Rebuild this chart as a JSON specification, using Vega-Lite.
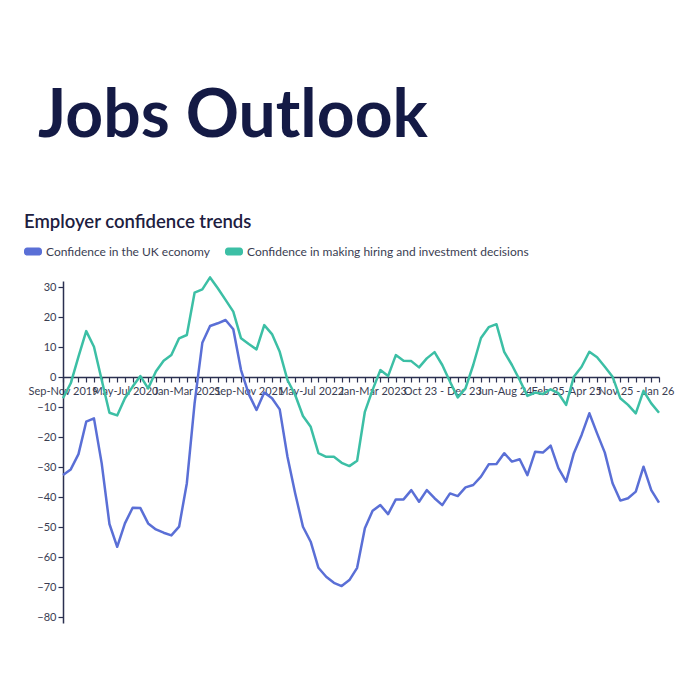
{
  "$schema": "https://vega.github.io/schema/vega-lite/v6.json",
  "padding": {"left": 24, "top": 84, "right": 10, "bottom": 10},
  "background": "white",
  "width": 596,
  "height": 342,
  "title": {
    "text": "Jobs Outlook",
    "anchor": "start",
    "frame": "group",
    "dx": -25,
    "offset": 62,
    "font": "Lato",
    "fontSize": 66,
    "fontWeight": "bold",
    "color": "#141a45"
  },
  "datasets": {
    "confidence": [
      {"period": "Sep-Nov 2019", "economy": -32.7, "hiring": -7.1},
      {"period": "Oct-Dec 2019", "economy": -30.8, "hiring": -2.1},
      {"period": "Nov 2019-Jan 2020", "economy": -25.7, "hiring": 6.8},
      {"period": "Dec 2019-Feb 2020", "economy": -14.9, "hiring": 15.3},
      {"period": "Jan-Mar 2020", "economy": -13.8, "hiring": 10.1},
      {"period": "Feb-Apr 2020", "economy": -28.8, "hiring": -1},
      {"period": "Mar-May 2020", "economy": -49, "hiring": -11.9},
      {"period": "Apr-Jun 2020", "economy": -56.6, "hiring": -12.8},
      {"period": "May-Jul 2020", "economy": -48.8, "hiring": -7.1},
      {"period": "Jun-Aug 2020", "economy": -43.6, "hiring": -3.2},
      {"period": "Jul-Sep 2020", "economy": -43.7, "hiring": 0.3},
      {"period": "Aug-Oct 2020", "economy": -48.8, "hiring": -3.8},
      {"period": "Sep-Nov 2020", "economy": -50.8, "hiring": 1.8},
      {"period": "Oct-Dec 2020", "economy": -51.9, "hiring": 5.4},
      {"period": "Nov 2020-Jan 2021", "economy": -52.8, "hiring": 7.3},
      {"period": "Dec 2020-Feb 2021", "economy": -49.9, "hiring": 12.9},
      {"period": "Jan-Mar 2021", "economy": -35.4, "hiring": 14},
      {"period": "Feb-Apr 2021", "economy": -8.8, "hiring": 28.1},
      {"period": "Mar-May 2021", "economy": 11.4, "hiring": 29.2},
      {"period": "Apr-Jun 2021", "economy": 17, "hiring": 33.2},
      {"period": "May-Jul 2021", "economy": 17.9, "hiring": 29.6},
      {"period": "Jun-Aug 2021", "economy": 19, "hiring": 25.7},
      {"period": "Jul-Sep 2021", "economy": 15.9, "hiring": 21.8},
      {"period": "Aug-Oct 2021", "economy": 2.3, "hiring": 12.9},
      {"period": "Sep-Nov 2021", "economy": -5.7, "hiring": 11},
      {"period": "Oct-Dec 2021", "economy": -11, "hiring": 9.2},
      {"period": "Nov 2021-Jan 2022", "economy": -5.2, "hiring": 17.3},
      {"period": "Dec 2021-Feb 2022", "economy": -7.1, "hiring": 14.3},
      {"period": "Jan-Mar 2022", "economy": -10.8, "hiring": 8.4},
      {"period": "Feb-Apr 2022", "economy": -26.6, "hiring": -1},
      {"period": "Mar-May 2022", "economy": -38.8, "hiring": -6},
      {"period": "Apr-Jun 2022", "economy": -49.9, "hiring": -13},
      {"period": "May-Jul 2022", "economy": -54.9, "hiring": -16.6},
      {"period": "Jun-Aug 2022", "economy": -63.6, "hiring": -25.4},
      {"period": "Jul-Sep 2022", "economy": -66.6, "hiring": -26.6},
      {"period": "Aug-Oct 2022", "economy": -68.6, "hiring": -26.6},
      {"period": "Sep-Nov 2022", "economy": -69.7, "hiring": -28.6},
      {"period": "Oct-Dec 2022", "economy": -67.7, "hiring": -29.7},
      {"period": "Nov 2022-Jan 2023", "economy": -63.6, "hiring": -27.9},
      {"period": "Dec 2022-Feb 2023", "economy": -50.4, "hiring": -11.6},
      {"period": "Jan-Mar 2023", "economy": -44.6, "hiring": -4.3},
      {"period": "Feb-Apr 2023", "economy": -42.7, "hiring": 2.3},
      {"period": "Mar-May 2023", "economy": -45.7, "hiring": 0.3},
      {"period": "Apr-Jun 2023", "economy": -40.8, "hiring": 7.3},
      {"period": "May-Jul 2023", "economy": -40.8, "hiring": 5.4},
      {"period": "Jun-Aug 2023", "economy": -37.7, "hiring": 5.3},
      {"period": "Jul-Sep 2023", "economy": -41.6, "hiring": 3.2},
      {"period": "Aug-Oct 2023", "economy": -37.7, "hiring": 6.2},
      {"period": "Sep-Nov 2023", "economy": -40.4, "hiring": 8.3},
      {"period": "Oct 23 - Dec 23", "economy": -42.7, "hiring": 4},
      {"period": "Nov 23 - Jan 24", "economy": -38.8, "hiring": -1.6},
      {"period": "Dec 23 - Feb 24", "economy": -39.7, "hiring": -6.8},
      {"period": "Jan-Mar 24", "economy": -36.8, "hiring": -3.8},
      {"period": "Feb-Apr 24", "economy": -36, "hiring": 4},
      {"period": "Mar-May 24", "economy": -33.2, "hiring": 13},
      {"period": "Apr-Jun 24", "economy": -29.1, "hiring": 16.6},
      {"period": "May-Jul 24", "economy": -29, "hiring": 17.6},
      {"period": "Jun-Aug 24", "economy": -25.4, "hiring": 8.4},
      {"period": "Jul-Sep 24", "economy": -28.2, "hiring": 4},
      {"period": "Aug-Oct 24", "economy": -27.4, "hiring": -1},
      {"period": "Sep-Nov 24", "economy": -32.7, "hiring": -6.3},
      {"period": "Oct-Dec 24", "economy": -24.9, "hiring": -5.2},
      {"period": "Nov 24 - Jan 25", "economy": -25.2, "hiring": -5.7},
      {"period": "Dec 24 - Feb 25", "economy": -22.9, "hiring": -4.1},
      {"period": "Jan-Mar 25", "economy": -30.4, "hiring": -5.4},
      {"period": "Feb 25-Apr 25", "economy": -34.9, "hiring": -9.3},
      {"period": "Mar-May 25", "economy": -25.4, "hiring": 0.1},
      {"period": "Apr-Jun 25", "economy": -19.3, "hiring": 3.4},
      {"period": "May-Jul 25", "economy": -12.1, "hiring": 8.4},
      {"period": "Jun-Aug 25", "economy": -18.8, "hiring": 6.6},
      {"period": "Jul-Sep 25", "economy": -25.2, "hiring": 3.4},
      {"period": "Aug-Oct 25", "economy": -35.4, "hiring": 0.1},
      {"period": "Sep-Nov 25", "economy": -41.2, "hiring": -7.1},
      {"period": "Oct-Dec 25", "economy": -40.4, "hiring": -9.3},
      {"period": "Nov 25 - Jan 26", "economy": -38.2, "hiring": -12.1},
      {"period": "Dec 25 - Feb 26", "economy": -29.9, "hiring": -4.6},
      {"period": "Jan-Mar 26", "economy": -37.7, "hiring": -8.8},
      {"period": "Feb-Apr 26", "economy": -41.9, "hiring": -11.9}
    ],
    "series": [
      {"key": "economy", "name": "Confidence in the UK economy", "order": 1},
      {"key": "hiring", "name": "Confidence in making hiring and investment decisions", "order": 2}
    ]
  },
  "data": {"name": "confidence"},
  "transform": [
    {"fold": ["economy", "hiring"], "as": ["key", "value"]},
    {"lookup": "key", "from": {"data": {"name": "series"}, "key": "key", "fields": ["name", "order"]}}
  ],
  "mark": {"type": "line", "strokeWidth": 2.5, "strokeJoin": "round"},
  "encoding": {
    "x": {
      "field": "period",
      "type": "ordinal",
      "sort": null,
      "scale": {"type": "point", "padding": 0},
      "axis": {
        "title": null,
        "offset": -246,
        "labelAngle": 0,
        "labelOverlap": false,
        "labelExpr": "indexof(['Sep-Nov 2019','May-Jul 2020','Jan-Mar 2021','Sep-Nov 2021','May-Jul 2022','Jan-Mar 2023','Oct 23 - Dec 23','Jun-Aug 24','Feb 25-Apr 25','Nov 25 - Jan 26'], datum.value) >= 0 ? datum.label : ''",
        "tickSize": 5,
        "labelPadding": 3
      }
    },
    "y": {
      "field": "value",
      "type": "quantitative",
      "scale": {"domain": [-82, 32], "nice": false},
      "axis": {
        "title": null,
        "values": [30, 20, 10, 0, -10, -20, -30, -40, -50, -60, -70, -80],
        "grid": false,
        "tickSize": 5,
        "labelPadding": 2
      }
    },
    "color": {
      "field": "name",
      "type": "nominal",
      "sort": {"field": "order", "op": "min"},
      "scale": {"range": ["#5a6fd6", "#3cbfa5"]},
      "legend": {
        "title": "Employer confidence trends",
        "orient": "none",
        "legendX": -39,
        "legendY": -68,
        "direction": "horizontal",
        "symbolType": "M-0.65,-0.45 H0.65 A0.35,0.35 0 0 1 1,-0.1 V0.1 A0.35,0.35 0 0 1 0.65,0.45 H-0.65 A0.35,0.35 0 0 1 -1,0.1 V-0.1 A0.35,0.35 0 0 1 -0.65,-0.45 Z",
        "symbolSize": 324,
        "symbolStrokeWidth": 0,
        "labelOffset": 4,
        "columnPadding": 14,
        "titlePadding": 11,
        "labelLimit": 400,
        "encode": {
          "symbols": {
            "update": {
              "fill": {"scale": "color", "field": "value"},
              "stroke": {"value": "transparent"}
            }
          }
        }
      }
    }
  },
  "config": {
    "font": "Lato",
    "view": {"stroke": null},
    "axis": {
      "domainColor": "#2b3050",
      "domainWidth": 1.5,
      "tickColor": "#2b3050",
      "tickWidth": 1.2,
      "labelColor": "#3a3d52",
      "labelFont": "Lato",
      "labelFontSize": 11
    },
    "legend": {
      "titleFont": "Lato",
      "titleFontSize": 18.5,
      "titleFontWeight": 600,
      "titleColor": "#1d2040",
      "titleLimit": 600,
      "labelFont": "Lato",
      "labelFontSize": 12,
      "labelColor": "#3a3d52"
    }
  }
}
